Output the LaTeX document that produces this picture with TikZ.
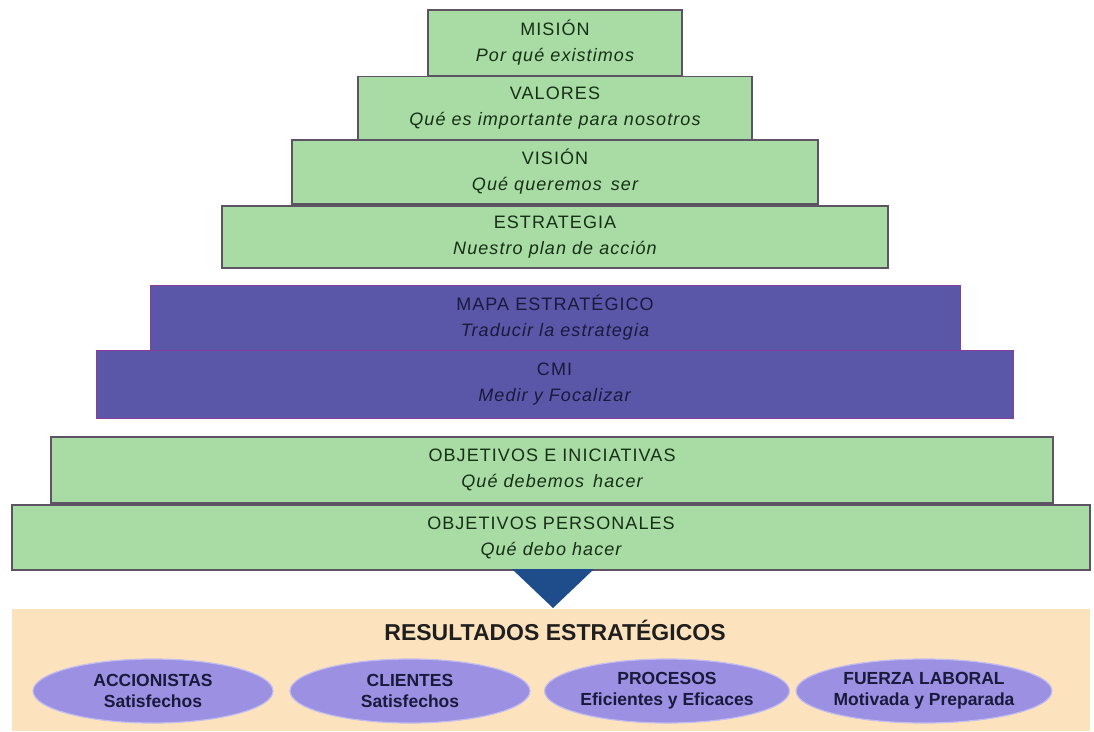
\documentclass[tikz,border=0pt]{standalone}
\usepackage{fontspec}
\setmainfont{Liberation Sans}
\usetikzlibrary{shapes.geometric}
\definecolor{leaf}{HTML}{A9DBA4}
\definecolor{leafedge}{HTML}{5E5362}
\definecolor{plum}{HTML}{5A56A8}
\definecolor{plumedge}{HTML}{8A3C9A}
\definecolor{sand}{HTML}{FDE3BD}
\definecolor{lilac}{HTML}{9B90E2}
\definecolor{navy}{HTML}{1F4C8A}
\definecolor{greenink}{HTML}{163016}
\definecolor{darkink}{HTML}{1A1A3C}
\newfontfamily\spaced[LetterSpace=6]{Liberation Sans}
\begin{document}
\begin{tikzpicture}[x=1pt,y=-1pt,
  tier/.style={rectangle, draw=leafedge, line width=1.5pt, fill=leaf,
    inner sep=0pt, align=center, text=greenink,
    font=\spaced\fontsize{18}{26}\selectfont},
  darktier/.style={tier, fill=plum, draw=plumedge, line width=1pt, text=darkink},
  goal/.style={ellipse, draw=lilac!60!white, line width=1.2pt, fill=lilac,
    minimum width=240pt, minimum height=64pt, inner sep=0pt, align=center,
    text=darkink, font=\bfseries\fontsize{17.5}{21}\selectfont}]
\useasboundingbox (0,0) rectangle (1094,731);
\fill[white] (0,0) rectangle (1094,731);

% pyramid of green and purple tiers
\node[tier, minimum width=254pt, minimum height=66pt] (mision) at (555,43)
  {MISIÓN\\\itshape Por qué existimos};
\node[tier, minimum width=394pt, minimum height=63pt] (valores) at (555,108)
  {VALORES\\\itshape Qué es importante para nosotros};
\node[tier, minimum width=526pt, minimum height=64pt] (vision) at (555,172)
  {VISIÓN\\\itshape Qué queremos\, ser};
\node[tier, minimum width=666pt, minimum height=62pt] (estrategia) at (555,237)
  {ESTRATEGIA\\\itshape Nuestro plan de acción};
\node[darktier, minimum width=810pt, minimum height=65pt] (mapa) at (555,317.5)
  {MAPA ESTRATÉGICO\\\itshape Traducir la estrategia};
\node[darktier, minimum width=917pt, minimum height=68pt] (cmi) at (554.5,384)
  {CMI\\\itshape Medir y Focalizar};
\node[tier, minimum width=1002pt, minimum height=66pt] (iniciativas) at (552,470)
  {OBJETIVOS E INICIATIVAS\\\itshape Qué debemos\, hacer};
\node[tier, minimum width=1078pt, minimum height=65pt] (personales) at (551,537.5)
  {OBJETIVOS PERSONALES\\\itshape Qué debo hacer};

% results band with the arrow pointing into it
\fill[sand] (12,609) rectangle (1090,731);
\fill[navy] (512,569) -- (594,569) -- (553,608) -- cycle;
\node[font=\bfseries\fontsize{23}{26}\selectfont, text=black!88] (resultados) at (555,630)
  {RESULTADOS ESTRATÉGICOS};

\node[goal] (accionistas) at (153,691) {ACCIONISTAS\\Satisfechos};
\node[goal] (clientes) at (410,691) {CLIENTES\\Satisfechos};
\node[goal] (procesos) at (667,691) {PROCESOS\\Eficientes y Eficaces};
\node[goal, minimum width=244pt] (fuerza) at (924,691) {FUERZA LABORAL\\Motivada y Preparada};
\end{tikzpicture}
\end{document}
